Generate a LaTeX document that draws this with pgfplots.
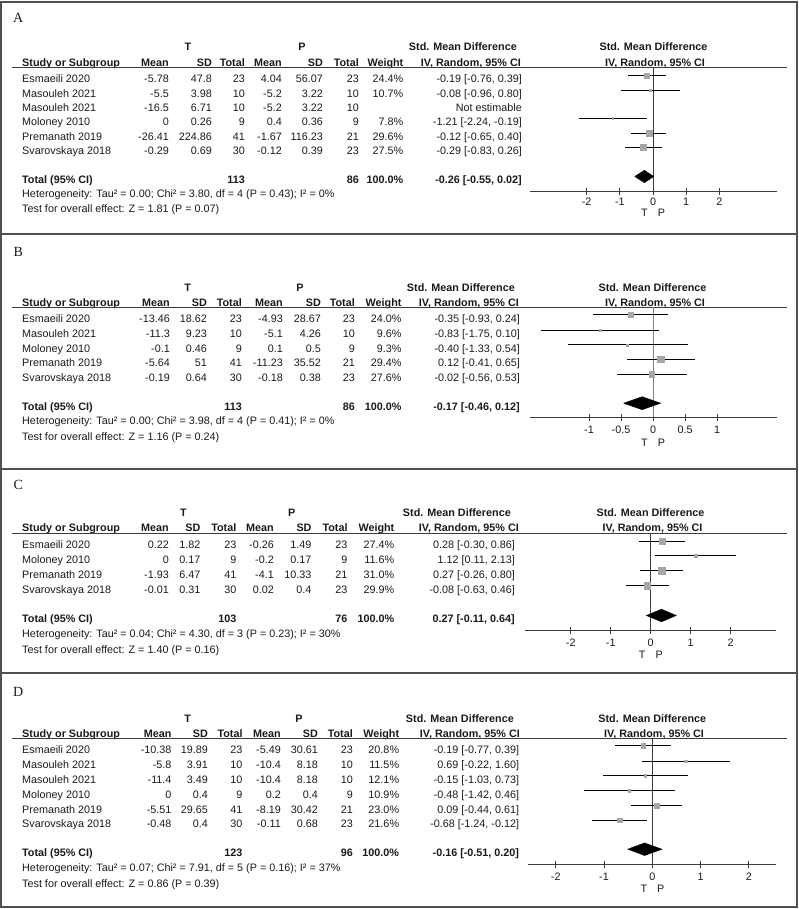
\documentclass[border=0pt]{standalone}
\usepackage{pgfplots}
\pgfplotsset{compat=1.18}
\usepackage{pgfplotstable}
\usepackage{fontspec}
\setmainfont{Liberation Sans}
\newfontfamily\serifA{Liberation Serif}
\definecolor{sqgray}{HTML}{A6A6A6}
\definecolor{axgray}{HTML}{3C3C3C}
\definecolor{frm}{HTML}{505050}
\definecolor{txtc}{HTML}{1A1A1A}
\newcommand\tf{\fontsize{10.8}{13}\selectfont}

% forest plot data: y (row position), e (estimate), m/p (CI distance below/above), w (weight %)
\pgfplotstableread{
y e m p w
-75.5 -0.19 0.57 0.58 24.4
-90.0 -0.08 0.88 0.88 10.7
-118.5 -1.21 1.03 1.02 7.8
-133.0 -0.12 0.53 0.52 29.6
-147.5 -0.29 0.54 0.55 27.5
}\tabA
\pgfplotstableread{
y e m p w
-314.8 -0.35 0.58 0.59 24.0
-330.2 -0.83 0.92 0.93 9.6
-344.8 -0.40 0.93 0.94 9.3
-359.5 0.12 0.53 0.53 29.4
-374.5 -0.02 0.54 0.55 27.6
}\tabB
\pgfplotstableread{
y e m p w
-541.5 0.28 0.58 0.58 27.4
-555.8 1.12 1.01 1.01 11.6
-570.8 0.27 0.53 0.53 31.0
-585.8 -0.08 0.55 0.54 29.9
}\tabC
\pgfplotstableread{
y e m p w
-745.8 -0.19 0.58 0.58 20.8
-761.2 0.69 0.91 0.91 11.5
-775.8 -0.15 0.88 0.88 12.1
-790.8 -0.48 0.94 0.94 10.9
-805.8 0.09 0.53 0.52 23.0
-820.2 -0.68 0.56 0.56 21.6
}\tabD

\pgfplotsset{
  forest/.style={scale only axis, anchor=south west, clip=false,
    axis x line*=bottom, axis y line=none,
    axis line style={axgray, line width=1pt},
    xtick align=center, major tick length=7pt,
    tick style={axgray, line width=0.9pt},
    xticklabel style={font=\tf, text=txtc, inner sep=0pt, text height=7.8pt, text depth=0pt, anchor=center}},
  ciline/.style={draw=none, mark=none, error bars/.cd, x dir=both, x explicit, error mark=none,
    error bar style={draw=black, solid, line width=0.9pt}},
  wsq/.style={scatter, only marks, mark=square*, point meta=\thisrow{w},
    scatter/use mapped color={draw=sqgray, fill=sqgray},
    visualization depends on={0.105*\thisrow{w} \as \msz},
    scatter/@pre marker code/.append style={/tikz/mark size=\msz}},
  dia/.style={fill=black, draw=black, line width=0.4pt, mark=none},
}

\newcommand\cols[8]{\def\cA{#1}\def\cB{#2}\def\cC{#3}\def\cD{#4}\def\cE{#5}\def\cF{#6}\def\cG{#7}\def\cH{#8}}
\newcommand\R[9]{%
 \node[txt,anchor=west] at (22,-#1) {#2};
 \node[txt,anchor=east] at (\cA,-#1) {#3};
 \node[txt,anchor=east] at (\cB,-#1) {#4};
 \node[txt,anchor=east] at (\cC,-#1) {#5};
 \node[txt,anchor=east] at (\cD,-#1) {#6};
 \node[txt,anchor=east] at (\cE,-#1) {#7};
 \node[txt,anchor=east] at (\cF,-#1) {#8};
 \node[txt,anchor=east] at (\cG,-#1) {#9};}
\newcommand\CI[2]{\node[txt,anchor=east] at (\cH,-#1) {#2};}
\newcommand\Tot[4]{%
 \node[bld,anchor=west] at (22,-#1) {Total (95\% CI)};
 \node[bld,anchor=east] at (\cC,-#1) {#2};
 \node[bld,anchor=east] at (\cF,-#1) {#3};
 \node[bld,anchor=east] at (\cG,-#1) {100.0\%};
 \node[bld,anchor=east] at (\cH,-#1) {#4};}
% #1 yTP #2 yHdr #3 Tx #4 Px #5 smdRight #6 ivRight #7 plotSMDx #8 plotIVx #9 lineY
\newcommand\Hdr[9]{%
 \node[bld] at (#3,-#1) {T};
 \node[bld] at (#4,-#1) {P};
 \node[bld,anchor=west] at (22,-#2) {Study or Subgroup};
 \node[bld,anchor=east] at (\cA,-#2) {Mean};
 \node[bld,anchor=east] at (\cB,-#2) {SD};
 \node[bld,anchor=east] at (\cC,-#2) {Total};
 \node[bld,anchor=east] at (\cD,-#2) {Mean};
 \node[bld,anchor=east] at (\cE,-#2) {SD};
 \node[bld,anchor=east] at (\cF,-#2) {Total};
 \node[bld,anchor=east] at (\cG,-#2) {Weight};
 \node[bld,anchor=east] at (#5,-#1) {Std. Mean Difference};
 \node[bld,anchor=east] at (#6,-#2) {IV, Random, 95\% CI};
 \node[bld] at (#7,-#1) {Std. Mean Difference};
 \node[bld] at (#8,-#2) {IV, Random, 95\% CI};
 \draw[axgray, line width=1pt] (12,-#9) -- (787,-#9);}
\newcommand\TP[2]{\node[txt] at (#1-8.5,-#2) {T};\node[txt] at (#1+8.5,-#2) {P};}
\newcommand\Lbl[2]{\node[font=\serifA\fontsize{14}{16}\selectfont, text=txtc, inner sep=0pt] at (18.3,-#1) {#2};}

\begin{document}
\begin{tikzpicture}[x=1pt,y=1pt,
  txt/.style={font=\tf, text=txtc, inner sep=0pt, text height=7.8pt, text depth=0pt},
  bld/.style={txt, font=\tf\bfseries}]
\path[use as bounding box] (0,0) rectangle (798,-909);
\draw[frm, line width=1.4pt] (1,-2) rectangle (797,-907);
\foreach \yy in {234,469,673} {\draw[frm, line width=1.4pt] (1,-\yy) -- (797,-\yy);}

% ================= A =================
\Lbl{18}{A}
\cols{169}{212}{245}{282}{323}{359}{403.5}{522}
\Hdr{47}{63}{188}{302}{517}{521}{653.5}{655}{68}
\R{79}{Esmaeili 2020}{-5.78}{47.8}{23}{4.04}{56.07}{23}{24.4\%}\CI{79}{-0.19 [-0.76, 0.39]}
\R{93.5}{Masouleh 2021}{-5.5}{3.98}{10}{-5.2}{3.22}{10}{10.7\%}\CI{93.5}{-0.08 [-0.96, 0.80]}
\R{108}{Masouleh 2021}{-16.5}{6.71}{10}{-5.2}{3.22}{10}{}\CI{108}{Not estimable}
\R{122}{Moloney 2010}{0}{0.26}{9}{0.4}{0.36}{9}{7.8\%}\CI{122}{-1.21 [-2.24, -0.19]}
\R{136.5}{Premanath 2019}{-26.41}{224.86}{41}{-1.67}{116.23}{21}{29.6\%}\CI{136.5}{-0.12 [-0.65, 0.40]}
\R{151}{Svarovskaya 2018}{-0.29}{0.69}{30}{-0.12}{0.39}{23}{27.5\%}\CI{151}{-0.29 [-0.83, 0.26]}
\Tot{180}{113}{86}{-0.26 [-0.55, 0.02]}
\node[txt,anchor=west] at (22,-194) {Heterogeneity: Tau² = 0.00; Chi² = 3.80, df = 4 (P = 0.43); I² = 0\%};
\node[txt,anchor=west] at (22,-209) {Test for overall effect: Z = 1.81 (P = 0.07)};
\TP{653}{212.5}
\begin{axis}[forest, at={(530pt,-192pt)}, width=247pt, height=124pt,
  xmin=-3.705, xmax=3.735, ymin=-192, ymax=-68,
  xtick={-2,-1,0,1,2}, xticklabels={-2,-1,0,1,2},
  xticklabel style={yshift=-6.5pt}]
\addplot[axgray, line width=1pt, mark=none] coordinates {(0,-68) (0,-192)};
\addplot[ciline] table[x=e, y=y, x error minus=m, x error plus=p] {\tabA};
\addplot[wsq] table[x=e, y=y] {\tabA};
\addplot[dia] coordinates {(-0.55,-176.5) (-0.26,-170.3) (0.02,-176.5) (-0.26,-182.7) (-0.55,-176.5)};
\end{axis}

% ================= B =================
\Lbl{251.7}{B}
\cols{170}{207}{242}{283}{321}{355}{401.7}{520}
\Hdr{288}{303}{187.7}{300}{515}{519}{652.5}{655}{307}
\R{318.3}{Esmaeili 2020}{-13.46}{18.62}{23}{-4.93}{28.67}{23}{24.0\%}\CI{318.3}{-0.35 [-0.93, 0.24]}
\R{333.7}{Masouleh 2021}{-11.3}{9.23}{10}{-5.1}{4.26}{10}{9.6\%}\CI{333.7}{-0.83 [-1.75, 0.10]}
\R{348.3}{Moloney 2010}{-0.1}{0.46}{9}{0.1}{0.5}{9}{9.3\%}\CI{348.3}{-0.40 [-1.33, 0.54]}
\R{363}{Premanath 2019}{-5.64}{51}{41}{-11.23}{35.52}{21}{29.4\%}\CI{363}{0.12 [-0.41, 0.65]}
\R{378}{Svarovskaya 2018}{-0.19}{0.64}{30}{-0.18}{0.38}{23}{27.6\%}\CI{378}{-0.02 [-0.56, 0.53]}
\Tot{406.7}{113}{86}{-0.17 [-0.46, 0.12]}
\node[txt,anchor=west] at (22,-421) {Heterogeneity: Tau² = 0.00; Chi² = 3.98, df = 4 (P = 0.41); I² = 0\%};
\node[txt,anchor=west] at (22,-437) {Test for overall effect: Z = 1.16 (P = 0.24)};
\TP{653}{443}
\begin{axis}[forest, at={(530pt,-417pt)}, width=247pt, height=110pt,
  xmin=-1.922, xmax=1.9375, ymin=-417, ymax=-307,
  xtick={-1,-0.5,0,0.5,1}, xticklabels={-1,-0.5,0,0.5,1},
  xticklabel style={yshift=-9.5pt}]
\addplot[gray, line width=1pt, mark=none] coordinates {(0,-307) (0,-417)};
\addplot[ciline] table[x=e, y=y, x error minus=m, x error plus=p] {\tabB};
\addplot[wsq] table[x=e, y=y] {\tabB};
\addplot[dia] coordinates {(-0.46,-403.2) (-0.17,-396.7) (0.12,-403.2) (-0.17,-409.7) (-0.46,-403.2)};
\end{axis}

% ================= C =================
\Lbl{485}{C}
\cols{169}{200.7}{236.5}{274}{311.7}{347.7}{394.5}{515}
\Hdr{512.5}{528}{183.3}{291.7}{511}{519}{650.5}{652.5}{533.3}
\R{545}{Esmaeili 2020}{0.22}{1.82}{23}{-0.26}{1.49}{23}{27.4\%}\CI{545}{0.28 [-0.30, 0.86]}
\R{559.3}{Moloney 2010}{0}{0.17}{9}{-0.2}{0.17}{9}{11.6\%}\CI{559.3}{1.12 [0.11, 2.13]}
\R{574.3}{Premanath 2019}{-1.93}{6.47}{41}{-4.1}{10.33}{21}{31.0\%}\CI{574.3}{0.27 [-0.26, 0.80]}
\R{589.3}{Svarovskaya 2018}{-0.01}{0.31}{30}{0.02}{0.4}{23}{29.9\%}\CI{589.3}{-0.08 [-0.63, 0.46]}
\Tot{619}{103}{76}{0.27 [-0.11, 0.64]}
\node[txt,anchor=west] at (22,-633.3) {Heterogeneity: Tau² = 0.04; Chi² = 4.30, df = 3 (P = 0.23); I² = 30\%};
\node[txt,anchor=west] at (22,-650) {Test for overall effect: Z = 1.40 (P = 0.16)};
\TP{650.7}{655}
\begin{axis}[forest, at={(525pt,-630.7pt)}, width=251pt, height=97.4pt,
  xmin=-3.1425, xmax=3.1325, ymin=-630.7, ymax=-533.3,
  xtick={-2,-1,0,1,2}, xticklabels={-2,-1,0,1,2},
  xticklabel style={yshift=-8.5pt}]
\addplot[axgray, line width=1pt, mark=none] coordinates {(0,-533.3) (0,-630.7)};
\addplot[ciline] table[x=e, y=y, x error minus=m, x error plus=p] {\tabC};
\addplot[wsq] table[x=e, y=y] {\tabC};
\addplot[dia] coordinates {(-0.11,-615.5) (0.27,-609.2) (0.64,-615.5) (0.27,-621.8) (-0.11,-615.5)};
\end{axis}

% ================= D =================
\Lbl{691.7}{D}
\cols{171.7}{208}{242.7}{281}{318}{353}{399.3}{519.3}
\Hdr{719}{734}{187.7}{299}{514}{520}{652.3}{654}{738}
\R{749.3}{Esmaeili 2020}{-10.38}{19.89}{23}{-5.49}{30.61}{23}{20.8\%}\CI{749.3}{-0.19 [-0.77, 0.39]}
\R{764.7}{Masouleh 2021}{-5.8}{3.91}{10}{-10.4}{8.18}{10}{11.5\%}\CI{764.7}{0.69 [-0.22, 1.60]}
\R{779.3}{Masouleh 2021}{-11.4}{3.49}{10}{-10.4}{8.18}{10}{12.1\%}\CI{779.3}{-0.15 [-1.03, 0.73]}
\R{794.3}{Moloney 2010}{0}{0.4}{9}{0.2}{0.4}{9}{10.9\%}\CI{794.3}{-0.48 [-1.42, 0.46]}
\R{809.3}{Premanath 2019}{-5.51}{29.65}{41}{-8.19}{30.42}{21}{23.0\%}\CI{809.3}{0.09 [-0.44, 0.61]}
\R{823.7}{Svarovskaya 2018}{-0.48}{0.4}{30}{-0.11}{0.68}{23}{21.6\%}\CI{823.7}{-0.68 [-1.24, -0.12]}
\Tot{852.7}{123}{96}{-0.16 [-0.51, 0.20]}
\node[txt,anchor=west] at (22,-867.7) {Heterogeneity: Tau² = 0.07; Chi² = 7.91, df = 5 (P = 0.16); I² = 37\%};
\node[txt,anchor=west] at (22,-883.3) {Test for overall effect: Z = 0.86 (P = 0.39)};
\TP{652.3}{888.5}
\begin{axis}[forest, at={(528pt,-864.3pt)}, width=248pt, height=126.3pt,
  xmin=-2.5735, xmax=2.561, ymin=-864.3, ymax=-738,
  xtick={-2,-1,0,1,2}, xticklabels={-2,-1,0,1,2},
  xticklabel style={yshift=-8.9pt}]
\addplot[axgray, line width=1pt, mark=none] coordinates {(0,-738) (0,-864.3)};
\addplot[ciline] table[x=e, y=y, x error minus=m, x error plus=p] {\tabD};
\addplot[wsq] table[x=e, y=y] {\tabD};
\addplot[dia] coordinates {(-0.51,-849.2) (-0.16,-842.9) (0.20,-849.2) (-0.16,-855.5) (-0.51,-849.2)};
\end{axis}
\end{tikzpicture}
\end{document}
